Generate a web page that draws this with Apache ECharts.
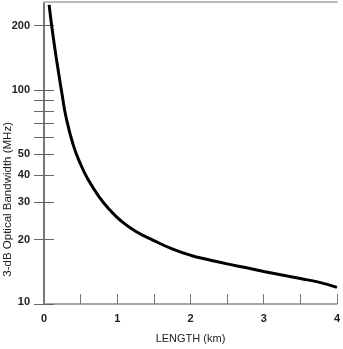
<!DOCTYPE html>
<html>
<head>
<meta charset="utf-8">
<script src="https://cdn.jsdelivr.net/npm/echarts@6/dist/echarts.min.js"></script>
<style>
html,body{margin:0;padding:0;background:#fff;}
#chart{width:343px;height:349px;}
</style>
</head>
<body>
<div id="chart"></div>
<script>
// Data
var lengthKm = [0.07, 0.10, 0.15, 0.20, 0.25, 0.30, 0.40, 0.50, 0.60, 0.75, 0.90, 1.05, 1.25, 1.50, 1.75, 2.00, 2.25, 2.50, 2.75, 3.00, 3.25, 3.50, 3.75, 4.00];
var bandwidthMHz = [250, 206, 155, 120, 94, 75, 55.3, 45, 38.3, 31.8, 27.5, 24.5, 21.9, 19.8, 18.1, 16.9, 16.1, 15.4, 14.8, 14.2, 13.65, 13.15, 12.65, 11.95];
var yTickValues = [10, 20, 30, 40, 50, 60, 70, 80, 90, 100, 200];
var yLabelValues = [10, 20, 30, 40, 50, 100, 200];
var xLabelValues = [0, 1, 2, 3, 4];
var xTitle = 'LENGTH (km)';
var yTitle = '3-dB Optical Bandwidth (MHz)';

var seriesData = lengthKm.map(function (x, i) { return [x, bandwidthMHz[i]]; });
var font = 'Liberation Sans, Arial, sans-serif';
var axisGray = '#8a8a8a';

var chart = echarts.init(document.getElementById('chart'), null, {renderer: 'canvas'});
chart.setOption({
  animation: false,
  backgroundColor: '#fff',
  grid: {left: 44, right: 2, top: 2, bottom: 40, containLabel: false},
  xAxis: [{
    type: 'value', min: 0, max: 4, interval: 0.5,
    axisLine: {show: true, lineStyle: {color: axisGray, width: 1.5}},
    axisTick: {show: true, inside: true, length: 10, lineStyle: {color: '#777', width: 1}},
    axisLabel: {customValues: xLabelValues, margin: 9, fontSize: 11, color: '#222', fontFamily: font, fontWeight: 'bold'},
    splitLine: {show: false},
    name: xTitle, nameLocation: 'middle', nameGap: 29,
    nameTextStyle: {fontSize: 11, color: '#222', fontFamily: font}
  }, {
    type: 'value', min: 0, max: 4, position: 'top',
    axisLine: {show: true, lineStyle: {color: '#bbb', width: 2}},
    axisTick: {show: false}, axisLabel: {show: false}, splitLine: {show: false}
  }],
  yAxis: [{
    type: 'log', logBase: 10, min: 10, max: 258,
    axisLine: {show: true, lineStyle: {color: axisGray, width: 1.5}},
    axisTick: {show: true, inside: true, length: 10, customValues: yTickValues, lineStyle: {color: '#666', width: 1}},
    axisLabel: {
      customValues: yLabelValues, margin: 14, fontSize: 11, color: '#222', fontFamily: font, fontWeight: 'bold',
      formatter: function (v) { return v === 10 ? '{low|10}' : '' + v; },
      rich: {low: {fontSize: 11, color: '#222', fontFamily: font, fontWeight: 'bold', padding: [0, 0, 5, 0]}}
    },
    splitLine: {show: false}, minorTick: {show: false}
  }, {
    type: 'log', logBase: 10, min: 10, max: 258, position: 'right',
    axisLine: {show: true, lineStyle: {color: '#777', width: 2}},
    axisTick: {show: true, inside: true, length: 10, customValues: yTickValues, lineStyle: {color: '#666', width: 1}},
    axisLabel: {show: false},
    splitLine: {show: false}
  }],
  graphic: [{
    type: 'text', left: 2, top: 122, rotation: Math.PI / 2,
    style: {text: yTitle, fill: '#222', font: '11.5px ' + font}
  }],
  series: [{
    type: 'line', data: seriesData, smooth: 0.5, showSymbol: false,
    xAxisIndex: 0, yAxisIndex: 0,
    lineStyle: {color: '#000', width: 3}
  }]
});
</script>
</body>
</html>
